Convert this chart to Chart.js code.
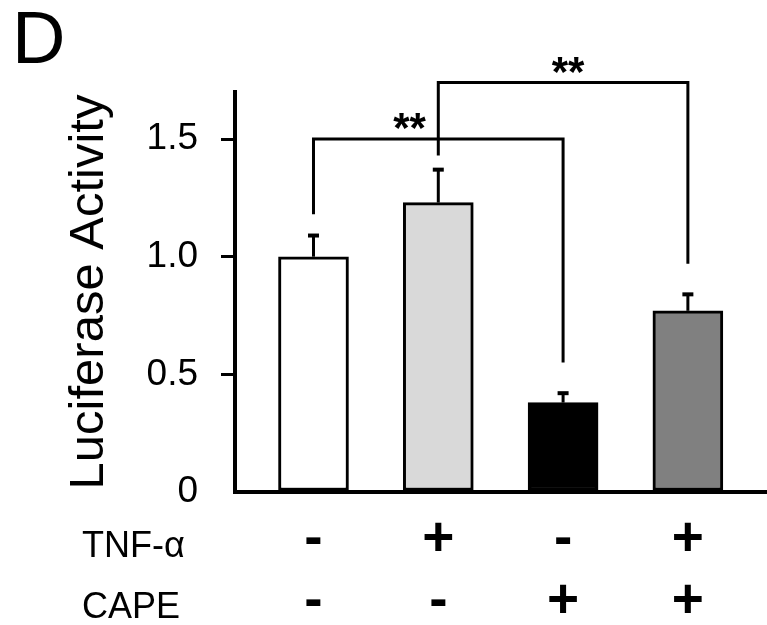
<!DOCTYPE html>
<html>
<head>
<meta charset="utf-8">
<script src="https://cdn.jsdelivr.net/npm/chart.js@4"></script>
<style>
  body { margin: 0; background: #fff; }
</style>
</head>
<body>
<canvas id="barChart" width="767" height="625"></canvas>
<script>
"use strict";

// data
var positions = [0, 1, 2, 3];
var values = [1.0, 1.23, 0.38, 0.77];
var errors = [0.09, 0.14, 0.04, 0.07];
var tnf = ['-', '+', '-', '+'];
var cape = ['-', '-', '+', '+'];
var yTicks = [0, 0.5, 1.0, 1.5];
var fills = ['#ffffff', '#d9d9d9', '#000000', '#808080'];

// significance brackets: from bar, to bar, bracket height, leg ends
var sigFrom = [0, 1];
var sigTo = [2, 3];
var sigLevel = [1.5, 1.74];
var sigFromEnd = [1.18, 1.43];
var sigToEnd = [0.55, 0.97];
var sigLabel = ['**', '**'];
var sigLabelX = [0.77, 2.04];

var FONT = '"Liberation Sans", Arial, sans-serif';

var extras = {
  id: 'extras',
  afterDatasetsDraw: function (chart) {
    var ctx = chart.ctx;
    var x = chart.scales.x;
    var y = chart.scales.y;
    ctx.save();
    ctx.strokeStyle = '#000';
    ctx.lineCap = 'butt';

    // error bars (upper only)
    values.forEach(function (v, i) {
      var px = x.getPixelForValue(positions[i]);
      var top = y.getPixelForValue(v + errors[i]);
      ctx.lineWidth = 3;
      ctx.beginPath();
      ctx.moveTo(px, y.getPixelForValue(v));
      ctx.lineTo(px, top);
      ctx.stroke();
      ctx.lineWidth = 4;
      ctx.beginPath();
      ctx.moveTo(px - 5.5, top);
      ctx.lineTo(px + 5.5, top);
      ctx.stroke();
    });

    // brackets
    ctx.lineWidth = 3;
    ctx.lineJoin = 'miter';
    sigFrom.forEach(function (f, i) {
      var x1 = x.getPixelForValue(positions[f]);
      var x2 = x.getPixelForValue(positions[sigTo[i]]);
      var yb = y.getPixelForValue(sigLevel[i]);
      ctx.beginPath();
      ctx.moveTo(x1, y.getPixelForValue(sigFromEnd[i]));
      ctx.lineTo(x1, yb);
      ctx.lineTo(x2, yb);
      ctx.lineTo(x2, y.getPixelForValue(sigToEnd[i]));
      ctx.stroke();

      ctx.fillStyle = '#000';
      ctx.font = 'bold 42px ' + FONT;
      ctx.textAlign = 'center';
      ctx.textBaseline = 'alphabetic';
      var m = ctx.measureText(sigLabel[i]);
      var cy = yb - 18;
      ctx.fillText(sigLabel[i], x.getPixelForValue(sigLabelX[i]),
        cy + (m.actualBoundingBoxAscent - m.actualBoundingBoxDescent) / 2);
    });
    ctx.restore();
  },
  afterDraw: function (chart) {
    var ctx = chart.ctx;
    ctx.save();
    ctx.fillStyle = '#000';
    ctx.textAlign = 'left';
    ctx.textBaseline = 'alphabetic';
    ctx.font = '74px ' + FONT;
    ctx.fillText('D', 12, 63);
    ctx.font = '36px ' + FONT;
    ctx.fillText('TNF-\u03b1', 82, 557);
    ctx.fillText('CAPE', 82, 618);
    ctx.restore();
  }
};

var ctx = document.getElementById('barChart').getContext('2d');
var myChart = new Chart(ctx, {
  type: 'bar',
  data: {
    datasets: [{
      data: positions.map(function (p, i) { return { x: p, y: values[i] }; }),
      backgroundColor: fills,
      borderColor: '#000',
      borderWidth: 3,
      borderSkipped: false,
      barThickness: 70
    }]
  },
  options: {
    responsive: false,
    animation: false,
    layout: { padding: { top: 92, right: 0, left: 0, bottom: 0 } },
    plugins: {
      legend: { display: false },
      tooltip: { enabled: false }
    },
    scales: {
      x: {
        type: 'linear',
        min: -0.629,
        max: 3.634,
        offset: false,
        grid: { display: false, offset: false, drawTicks: false },
        border: { display: true, color: '#000', width: 4 },
        afterBuildTicks: function (s) {
          s.ticks = positions.map(function (p) { return { value: p }; });
        },
        afterFit: function (s) { s.height = 133; },
        ticks: {
          padding: 17,
          maxRotation: 0,
          autoSkip: false,
          color: '#000',
          font: { family: FONT, size: 55, weight: 'bold', lineHeight: 62 / 55 },
          callback: function (v, i) { return [tnf[i], cape[i]]; }
        }
      },
      y: {
        min: 0,
        max: 1.7,
        grid: {
          display: true,
          drawOnChartArea: false,
          drawTicks: true,
          tickLength: 14,
          lineWidth: 3,
          color: function (c) { return c.tick && c.tick.value === 0 ? 'rgba(0,0,0,0)' : '#000'; }
        },
        border: { display: true, color: '#000', width: 4 },
        afterBuildTicks: function (s) {
          s.ticks = yTicks.map(function (t) { return { value: t }; });
        },
        afterFit: function (s) { s.width = 235; },
        ticks: {
          padding: 23,
          color: '#000',
          font: { family: FONT, size: 37 },
          callback: function (v) { return v === 0 ? '0' : v.toFixed(1); }
        },
        title: {
          display: true,
          text: 'Luciferase Activity',
          color: '#000',
          font: { family: FONT, size: 49 },
          padding: { top: 60, bottom: 0 }
        }
      }
    }
  },
  plugins: [extras]
});
</script>
</body>
</html>
